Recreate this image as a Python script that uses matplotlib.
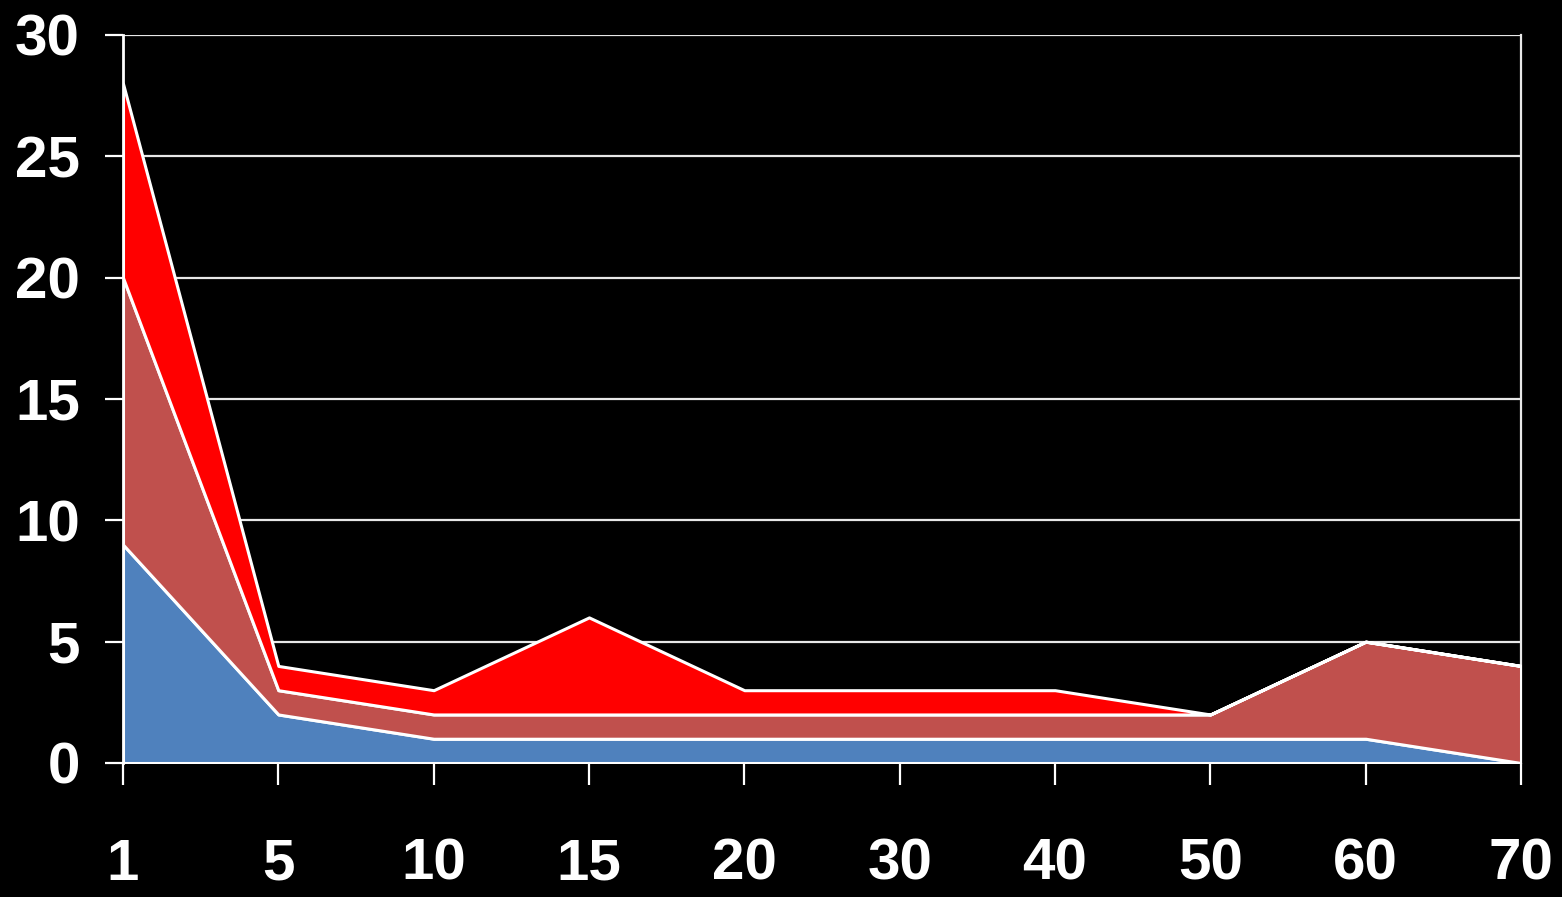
import matplotlib
matplotlib.use("Agg")
import matplotlib.pyplot as plt
import numpy as np

categories = ["1", "5", "10", "15", "20", "30", "40", "50", "60", "70"]
series_blue = [9, 2, 1, 1, 1, 1, 1, 1, 1, 0]
series_brown = [11, 1, 1, 1, 1, 1, 1, 1, 4, 4]
series_red = [8, 1, 1, 4, 1, 1, 1, 0, 0, 0]
y_ticks = [0, 5, 10, 15, 20, 25, 30]

colors = ["#4F81BD", "#C0504D", "#FF0000"]

fig = plt.figure(figsize=(15.62, 8.97), dpi=100, facecolor="black")
ax = fig.add_axes([123/1562, 1 - 763/897, (1521-123)/1562, (763-35)/897])
ax.set_facecolor("black")

x = np.arange(len(categories))
b = np.array(series_blue, float)
br = np.array(series_brown, float)
r = np.array(series_red, float)
ax.stackplot(x, b, br, r, colors=colors, edgecolor="white", linewidth=2.2, zorder=3)

ax.set_xlim(0, len(categories) - 1)
ax.set_ylim(0, 30)
ax.set_yticks(y_ticks)
ax.set_xticks(x)
ax.set_xticklabels(categories)
ax.yaxis.grid(True, color="#e8e8e8", linewidth=1.6, zorder=1)
ax.set_axisbelow(True)

for s in ["top", "bottom"]:
    ax.spines[s].set_visible(False)
ax.spines["left"].set_color("white")
ax.spines["left"].set_linewidth(2)
ax.spines["right"].set_color("#e8e8e8")
ax.spines["right"].set_linewidth(1.6)

fam = ["Liberation Sans", "DejaVu Sans"]
ax.tick_params(axis="y", colors="white", length=13, width=1.6, pad=18)
ax.tick_params(axis="x", colors="white", length=16, width=1.6, pad=38)
for lab in ax.get_xticklabels() + ax.get_yticklabels():
    lab.set_fontfamily(fam)
    lab.set_fontweight("bold")
    lab.set_fontsize(42)
    lab.set_color("white")

fig.savefig("out.png", dpi=100, facecolor="black")
